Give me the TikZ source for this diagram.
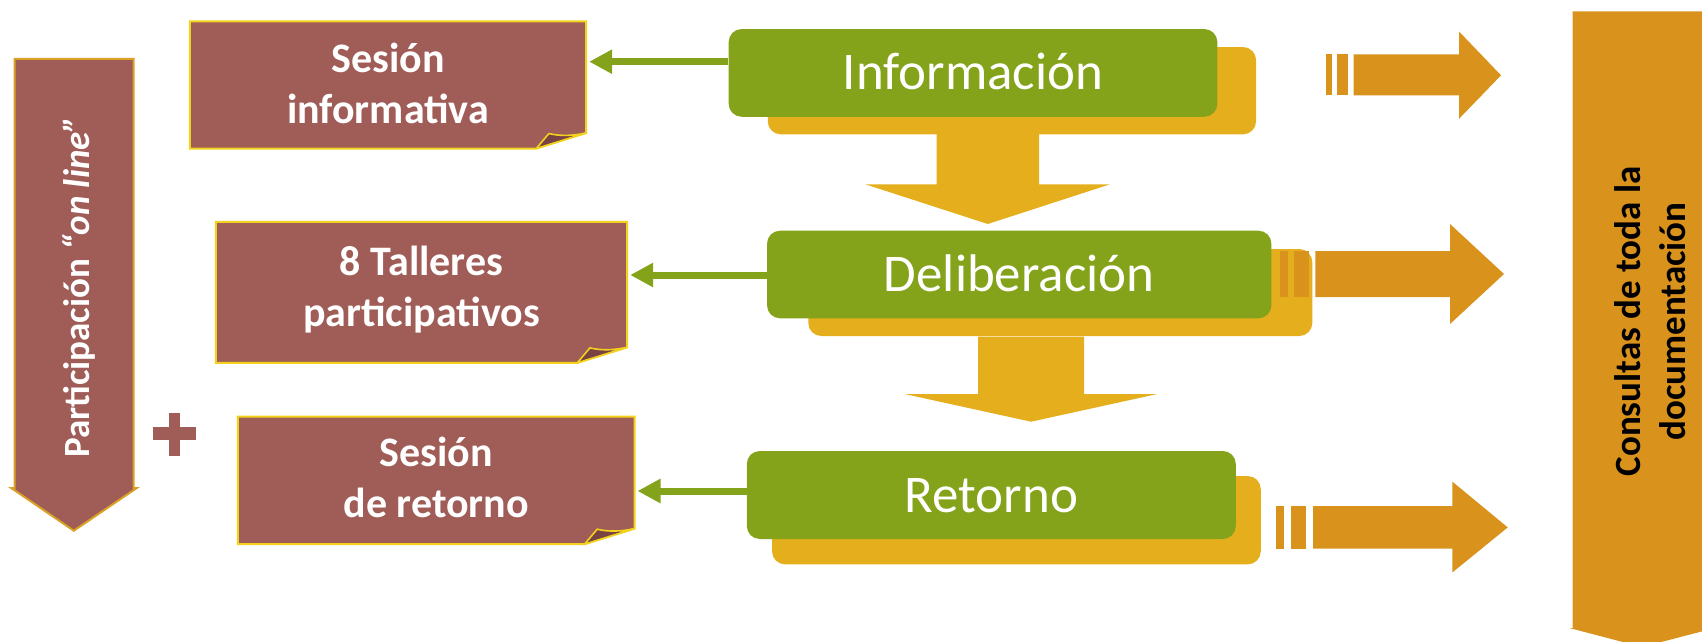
\documentclass[tikz,border=0pt]{standalone}
\usepackage{fontspec}
\setmainfont{Carlito}
\usetikzlibrary{arrows.meta}
\definecolor{brownfill}{HTML}{A05C57}
\definecolor{foldbrown}{HTML}{7A4343}
\definecolor{boxedge}{HTML}{F2D21C}
\definecolor{arrowedge}{HTML}{D9A126}
\definecolor{leaf}{HTML}{84A31A}
\definecolor{gold}{HTML}{E5AE1C}
\definecolor{amber}{HTML}{D9921B}
\newcommand{\foldedbox}[1]{%
  \filldraw[fill=brownfill, draw=boxedge, line width=2pt, line join=miter]
    (#1.north west) -- (#1.north east) -- ([yshift=15.6pt]#1.south east)
    -- ([xshift=-50pt]#1.south east) -- (#1.south west) -- cycle;
  \filldraw[fill=foldbrown, draw=boxedge, line width=1.6pt, line join=round]
    ([xshift=-50pt]#1.south east) -- ([xshift=-37.3pt,yshift=15pt]#1.south east)
    .. controls ([xshift=-25pt,yshift=12pt]#1.south east) and ([xshift=-12pt,yshift=13pt]#1.south east)
    .. ([yshift=15.6pt]#1.south east) -- cycle;}
\begin{document}
\begin{tikzpicture}[x=1pt,y=-1pt,
  shadowbox/.style={fill=gold, rounded corners=13pt, inner sep=0pt},
  greenbox/.style={fill=leaf, rounded corners=13pt, inner sep=0pt, text=white,
    font=\fontsize{53}{64}\selectfont, text height=34pt, text depth=0pt},
  brownbox/.style={inner sep=0pt},
  browntext/.style={text=white, align=center, inner sep=0pt,
    font=\bfseries\fontsize{42}{51}\selectfont},
  flow/.style={draw=leaf, line width=7pt, -{Triangle[length=23pt,width=23pt]}, shorten >=3pt},
  goldshape/.style={fill=gold},
  ambershape/.style={fill=amber}]
\useasboundingbox (0,0) rectangle (1702,642);

% left "Participacion on line" arrow
\filldraw[fill=brownfill, draw=arrowedge, line width=2pt, line join=miter]
  (14.6,59) -- (133.6,59) -- (133.6,488) -- (136.8,488) -- (73.8,530.7)
  -- (11.2,488) -- (14.6,488) -- cycle;
\node[rotate=90, text=white, inner sep=0pt, font=\bfseries\fontsize{37}{44}\selectfont]
  (part) at (79,287) {Participación {\itshape “on line”}};

% plus sign
\fill[brownfill] (169,412.7) rectangle (180,456);
\fill[brownfill] (152.6,427) rectangle (195.7,440);

% shadows of the green boxes
\node[shadowbox, minimum width=488.3pt, minimum height=87.3pt] (infoS) at (1011.9,90.7) {};
\node[shadowbox, minimum width=504pt, minimum height=87pt] (delibS) at (1060.3,292.5) {};
\node[shadowbox, minimum width=488.7pt, minimum height=88.3pt] (retS) at (1016.4,520.2) {};

% down block arrows
\fill[goldshape] (936.5,130) -- (1039,130) -- (1039,184.3) -- (1110,184.3) -- (987.8,224)
  -- (865.3,184.3) -- (936.5,184.3) -- cycle;
\fill[goldshape] (978.2,336.5) -- (1084.2,336.5) -- (1084.2,394) -- (1157.3,394) -- (1031,421.7)
  -- (904.7,394) -- (978.2,394) -- cycle;

% green boxes
\node[greenbox, minimum width=488.7pt, minimum height=87.7pt] (info) at (973,72.9) {Información};
\node[greenbox, minimum width=504.4pt, minimum height=87.6pt] (delib) at (1019.2,274.5) {Deliberación};
\node[greenbox, minimum width=489pt, minimum height=88pt] (ret) at (991.3,495) {Retorno};

% right block arrows
\fill[ambershape] (1326,54.5) rectangle (1332,95.4);
\fill[ambershape] (1337,54.5) rectangle (1348,95.4);
\fill[ambershape] (1353.7,54.5) -- (1459,54.5) -- (1459,31.5) -- (1501,75.3) -- (1459,118.8)
  -- (1459,95.4) -- (1353.7,95.4) -- cycle;
\fill[ambershape] (1280,251) rectangle (1288,297);
\fill[ambershape] (1294,251) rectangle (1309,297);
\fill[ambershape] (1315.3,251) -- (1450,251) -- (1450,224) -- (1504,274) -- (1450,324)
  -- (1450,297) -- (1315.3,297) -- cycle;
\fill[ambershape] (1276,506) rectangle (1284,548.7);
\fill[ambershape] (1291,506) rectangle (1306,548.7);
\fill[ambershape] (1313,506) -- (1452.3,506) -- (1452.3,481.6) -- (1507.7,527.4) -- (1452.3,572.5)
  -- (1452.3,548.7) -- (1313,548.7) -- cycle;

% big right arrow
\begin{scope}
  \clip (0,0) rectangle (1702,642);
  \fill[ambershape] (1572.5,11.5) -- (1712,11.5) -- (1712,628) -- (1715,628) -- (1642,647)
    -- (1569.3,628) -- (1572.5,628) -- cycle;
\end{scope}
\node[rotate=90, align=center, text=black, inner sep=0pt,
  font=\bfseries\fontsize{37}{45}\selectfont] (cons) at (1650,321.5)
  {Consultas de toda la\\documentación};

% brown boxes
\node[brownbox, minimum width=396pt, minimum height=126.7pt] (ses) at (388,85) {};
\foldedbox{ses}
\node[browntext] (sestext) at ([yshift=2pt]ses.center) {Sesión\\informativa};

\node[brownbox, minimum width=411pt, minimum height=140.7pt] (tall) at (421.5,292.35) {};
\foldedbox{tall}
\node[browntext] (talltext) at ([yshift=3pt]tall.center) {8 Talleres\\participativos};

\node[brownbox, minimum width=396.3pt, minimum height=127.3pt] (sret) at (436.15,480.35) {};
\foldedbox{sret}
\node[browntext] (srettext) at ([yshift=3pt]sret.center) {Sesión\\de retorno};

% green connectors
\coordinate (a1) at (0,61.7);
\coordinate (a2) at (0,275);
\coordinate (a3) at (0,491);
\draw[flow] (info.west |- a1) -- (ses.east |- a1);
\draw[flow] (delib.west |- a2) -- (tall.east |- a2);
\draw[flow] (ret.west |- a3) -- (sret.east |- a3);
\end{tikzpicture}
\end{document}
